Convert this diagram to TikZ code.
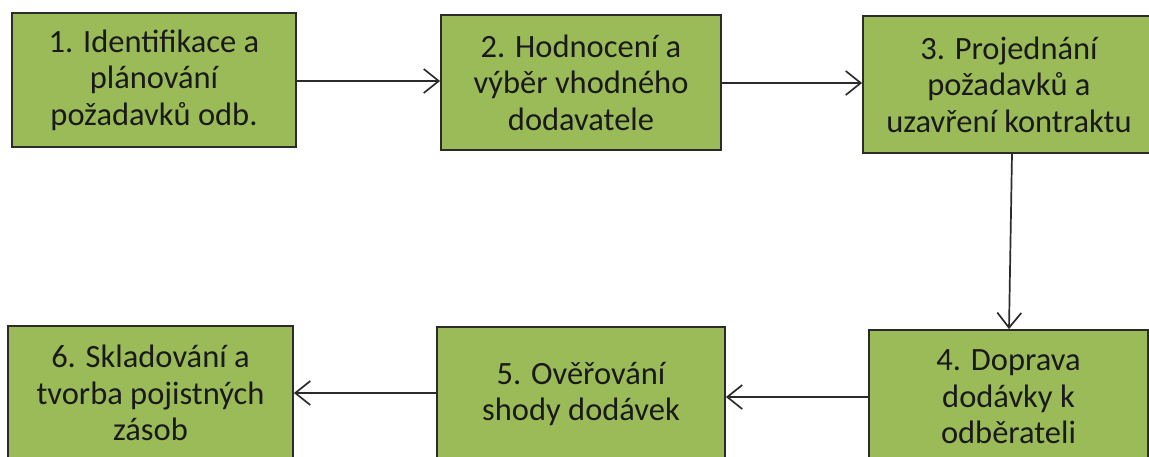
\documentclass[tikz,border=0pt]{standalone}
\usepackage{fontspec}
\setmainfont{Carlito}
\usetikzlibrary{arrows.meta}
\definecolor{boxgreen}{HTML}{9BBB59}
\definecolor{edge}{HTML}{2B2B2B}
\definecolor{txt}{HTML}{1A1A1A}
\tikzset{
  stepbox/.style={draw=edge, line width=1.8pt, fill=boxgreen, text=txt,
    align=center, inner sep=0pt,
    font=\fontsize{32.5}{36.5}\selectfont},
  flow/.style={draw=edge, line width=1.7pt,
    -{Straight Barb[length=15pt,width=24pt,line width=1.7pt]}}
}
\begin{document}
\begin{tikzpicture}[x=1pt,y=-1pt]
\useasboundingbox (0,0) rectangle (1149,456);
\clip (0,0) rectangle (1149,456);
\fill[white] (0,0) rectangle (1149,456);

\node[stepbox, minimum width=284pt, minimum height=134pt] (s1) at (154,80)
  {1. Identifikace a\\plánování\\požadavků odb.};
\node[stepbox, minimum width=280pt, minimum height=135pt] (s2) at (581,82.5)
  {2. Hodnocení a\\výběr vhodného\\dodavatele};
\node[stepbox, minimum width=292pt, minimum height=137pt] (s3) at (1009,84.5)
  {3. Projednání\\požadavků a\\uzavření kontraktu};
\node[stepbox, minimum width=279pt, minimum height=134pt] (s4) at (1008.5,397)
  {4. Doprava\\dodávky k\\odběrateli};
\node[stepbox, minimum width=288pt, minimum height=134pt] (s5) at (581,394)
  {5. Ověřování\\shody dodávek};
\node[stepbox, minimum width=285pt, minimum height=134pt] (s6) at (150.5,393)
  {6. Skladování a\\tvorba pojistných\\zásob};

\draw[flow] (s1.east |- 0,81) -- (s2.west |- 0,81);
\draw[flow] (s2.east |- 0,83) -- (s3.west |- 0,83);
\draw[flow] (s3.south -| 1012,0) -- (s4.north -| 1009,0);
\draw[flow] (s4.west |- 0,397) -- (s5.east |- 0,397);
\draw[flow] (s5.west |- 0,393) -- (s6.east |- 0,393);
\end{tikzpicture}
\end{document}
